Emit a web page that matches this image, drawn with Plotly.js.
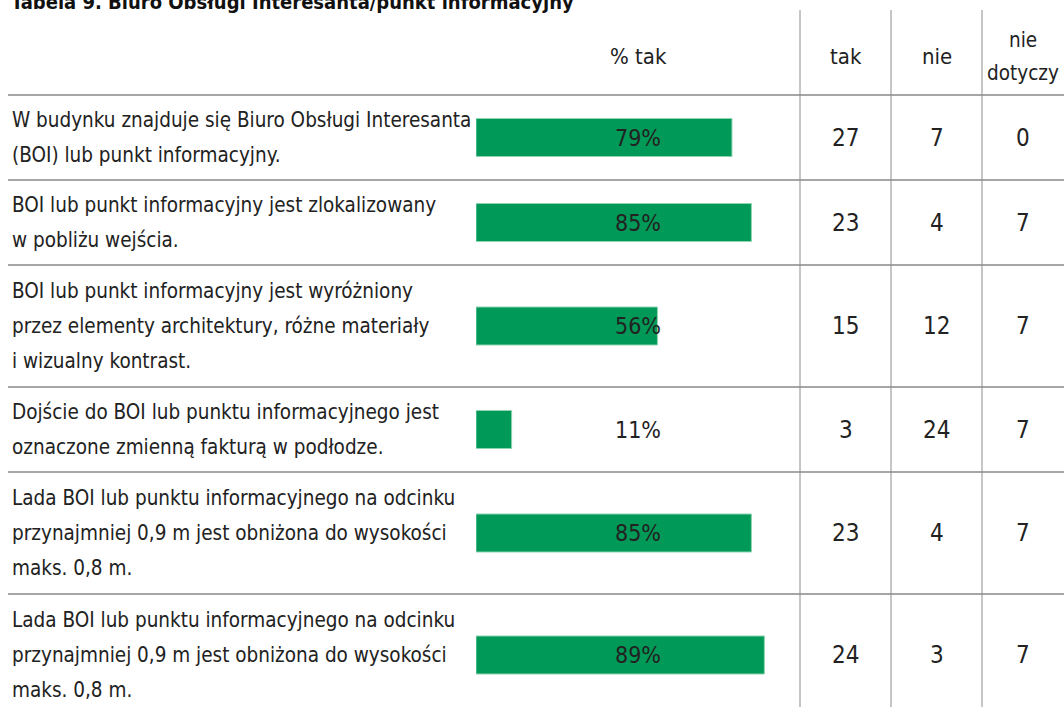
<!DOCTYPE html>
<html>
<head>
<meta charset="utf-8">
<script src="https://cdn.plot.ly/plotly-3.0.1.min.js"></script>
<style>html,body{margin:0;padding:0;background:#fff;}#chart{width:1064px;height:707px;}</style>
</head>
<body>
<div id="chart"></div>
<script>
// ---- data ----
const tableTitle = "Tabela 9. Biuro Obsługi Interesanta/punkt informacyjny";
const headerPct = "% tak";
const headerCols = [["tak"], ["nie"], ["nie", "dotyczy"]];
const statements = [
  ["W budynku znajduje się Biuro Obsługi Interesanta", "(BOI) lub punkt informacyjny."],
  ["BOI lub punkt informacyjny jest zlokalizowany", "w pobliżu wejścia."],
  ["BOI lub punkt informacyjny jest wyróżniony", "przez elementy architektury, różne materiały", "i wizualny kontrast."],
  ["Dojście do BOI lub punktu informacyjnego jest", "oznaczone zmienną fakturą w podłodze."],
  ["Lada BOI lub punktu informacyjnego na odcinku", "przynajmniej 0,9 m jest obniżona do wysokości", "maks. 0,8 m."],
  ["Lada BOI lub punktu informacyjnego na odcinku", "przynajmniej 0,9 m jest obniżona do wysokości", "maks. 0,8 m."]
];
const pctTak = [79, 85, 56, 11, 85, 89];
const countTak = [27, 23, 15, 3, 23, 24];
const countNie = [7, 4, 12, 24, 4, 3];
const countNieDotyczy = [0, 7, 7, 7, 7, 7];

// ---- layout helpers ----
const W = 1064, H = 707;
const FONT = "'DejaVu Sans Condensed', 'Liberation Sans Narrow', 'Roboto', sans-serif";
const textColor = "#222222";
const headerBottom = 95;
const lineStep = 35;
const rowPad = 11, rowPerLine = 37;
const colLines = [800, 891, 982];
const colCenters = [845.5, 936.5, 1023];

const rowTops = [], rowCenters = [];
let yCur = headerBottom;
statements.forEach(s => {
  const h = rowPad + rowPerLine * s.length;
  rowTops.push(yCur);
  rowCenters.push(yCur + h / 2);
  yCur += h;
});
const rowBottoms = rowTops.map((t, i) => t + rowPad + rowPerLine * statements[i].length);

const annotations = [];
const shapes = [];
function txt(text, x, y, xref, size, opts) {
  annotations.push(Object.assign({
    text: text, x: x, y: y, xref: xref, yref: 'y', showarrow: false,
    xanchor: 'center', yanchor: 'middle',
    font: {family: FONT, size: size, color: textColor}
  }, opts || {}));
}

// title (partially cut off at top)
txt(tableTitle, 9 / W, 2, 'paper', 20, {xanchor: 'left', font: {family: FONT, size: 20, color: '#111', weight: 700}});

// headers
txt(headerPct, 50, 56, 'x', 22);
headerCols.forEach((lines, c) => {
  lines.forEach((l, i) => {
    txt(l, colCenters[c] / W, 56 + (i - (lines.length - 1) / 2) * 33, 'paper', lines.length > 1 ? 20.5 : 22);
  });
});

// rows
statements.forEach((lines, r) => {
  lines.forEach((l, i) => {
    txt(l, 10 / W, rowCenters[r] + (i - (lines.length - 1) / 2) * lineStep, 'paper', 20.5, {xanchor: 'left'});
  });
  txt(pctTak[r] + "%", 50, rowCenters[r], 'x', 23);
  [countTak[r], countNie[r], countNieDotyczy[r]].forEach((v, c) => {
    txt(String(v), colCenters[c] / W, rowCenters[r], 'paper', 24);
  });
});

// grid lines
const hLines = [headerBottom].concat(rowBottoms);
hLines.forEach(y => {
  shapes.push({type: 'line', xref: 'paper', yref: 'y', x0: 8 / W, x1: 1, y0: y, y1: y,
    line: {color: '#a6a6a6', width: 2}, layer: 'below'});
});
colLines.forEach(x => {
  shapes.push({type: 'line', xref: 'paper', yref: 'y', x0: x / W, x1: x / W, y0: 10, y1: H,
    line: {color: '#8c8c8c', width: 1}, layer: 'below'});
});

const trace = {
  type: 'bar', orientation: 'h',
  x: pctTak, y: rowCenters,
  width: 38,
  marker: {color: '#009957', line: {color: '#8fd3b0', width: 1}},
  hoverinfo: 'skip'
};

const layout = {
  width: W, height: H,
  margin: {l: 0, r: 0, t: 0, b: 0},
  paper_bgcolor: '#fff', plot_bgcolor: 'rgba(0,0,0,0)',
  showlegend: false,
  xaxis: {domain: [476 / W, 800 / W], range: [0, 100], visible: false, fixedrange: true},
  yaxis: {domain: [0, 1], range: [H, 0], visible: false, fixedrange: true},
  annotations: annotations,
  shapes: shapes
};

Plotly.newPlot('chart', [trace], layout, {staticPlot: true, displayModeBar: false});
</script>
</body>
</html>
